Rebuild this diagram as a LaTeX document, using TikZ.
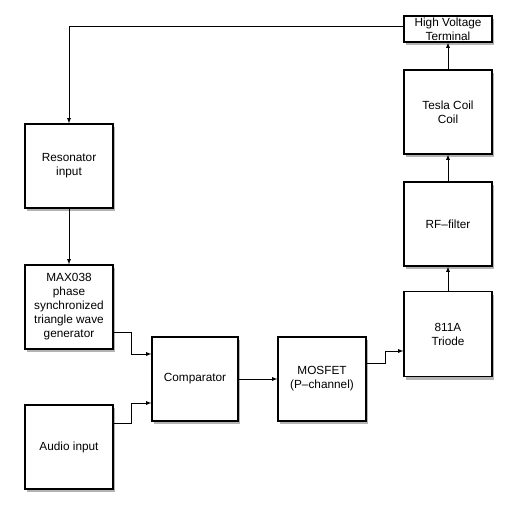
\documentclass[tikz,border=0pt]{standalone}
\usepackage{fontspec}
\setmainfont{Liberation Sans}
\usepackage{tikz}
\usetikzlibrary{calc,positioning,fit}
\usetikzlibrary{shapes,arrows,shadows}

\tikzset{
  block/.style={draw,line width=1.2pt,fill=white,align=center,minimum width=88pt,minimum height=84pt,
    drop shadow={opacity=0.6,shadow xshift=2pt,shadow yshift=-3pt}},
  wire/.style={thick,-latex}
}

\begin{document}
\begin{tikzpicture}[x=1pt,y=-1pt,inner sep=0.4mm,font=\fontsize{11.8}{14}\selectfont]
\useasboundingbox (0,0) rectangle (518,506);

\node[block] (res) at (69,166) {Resonator\\input};
\node[block] (max) at (69,307) {MAX038\\phase\\synchronized\\triangle wave\\generator};
\node[block] (audio) at (69,447) {Audio input};
\node[block,minimum width=86pt] (comp) at (195,379) {Comparator};
\node[block] (mos) at (322,379) {MOSFET\\(P--channel)};
\node[block,minimum height=85pt] (triode) at (448,334) {811A\\Triode};
\node[block] (rf) at (448,224) {RF--filter};
\node[block] (tesla) at (448,112) {Tesla Coil\\Coil};
\node[block,minimum height=26pt,inner sep=0pt] (hv) at (448,29) {High Voltage\\Terminal};

\draw[wire] ([yshift=3pt]hv.west) -| (res.north);
\draw[wire] (res) -- (max);
\draw[wire] ([yshift=-25pt]max.east) -- ++(18,0) |- ([yshift=25pt]comp.west);
\draw[wire] ([yshift=24pt]audio.east) -- ++(18,0) |- ([yshift=-24pt]comp.west);
\draw[wire] (comp) -- (mos);
\draw[wire] ([yshift=16pt]mos.east) -- ++(19,0) |- ([yshift=-17pt]triode.west);
\draw[wire] (triode) -- (rf);
\draw[wire] (rf) -- (tesla);
\draw[wire] (tesla) -- (hv);
\end{tikzpicture}
\end{document}
